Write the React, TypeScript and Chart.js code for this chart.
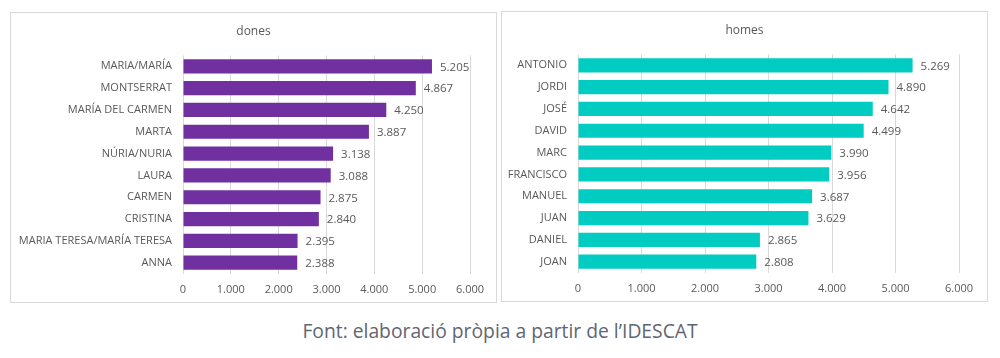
import React, { useEffect, useRef } from "react";
import { Chart, registerables } from "chart.js";

Chart.register(...registerables);

const donesNames = [
  "MARIA/MARÍA",
  "MONTSERRAT",
  "MARÍA DEL CARMEN",
  "MARTA",
  "NÚRIA/NURIA",
  "LAURA",
  "CARMEN",
  "CRISTINA",
  "MARIA TERESA/MARÍA TERESA",
  "ANNA",
];
const donesValues = [5205, 4867, 4250, 3887, 3138, 3088, 2875, 2840, 2395, 2388];

const homesNames = [
  "ANTONIO",
  "JORDI",
  "JOSÉ",
  "DAVID",
  "MARC",
  "FRANCISCO",
  "MANUEL",
  "JUAN",
  "DANIEL",
  "JOAN",
];
const homesValues = [5269, 4890, 4642, 4499, 3990, 3956, 3687, 3629, 2865, 2808];

const axisMin = 0;
const axisMax = 6000;
const axisStep = 1000;

const sourceText = "Font: elaboració pròpia a partir de l’IDESCAT";

const FONT = "'Open Sans', 'Liberation Sans', sans-serif";
const TEXT_GRAY = "#595959";
const GRID = "#d9d9d9";

const fmt = (v: number) =>
  String(Math.round(v)).replace(/\B(?=(\d{3})+(?!\d))/g, ".");

const valueLabels = {
  id: "valueLabels",
  afterDatasetsDraw(chart: any) {
    const ctx = chart.ctx;
    ctx.save();
    ctx.font = `11.5px ${FONT}`;
    ctx.fillStyle = TEXT_GRAY;
    ctx.textAlign = "left";
    ctx.textBaseline = "middle";
    chart.data.datasets.forEach((ds: any, di: number) => {
      const meta = chart.getDatasetMeta(di);
      meta.data.forEach((el: any, i: number) => {
        ctx.fillText(fmt(ds.data[i]), el.x + 8, el.y + 1);
      });
    });
    ctx.restore();
  },
};

const centeredTitle = {
  id: "centeredTitle",
  afterDraw(chart: any, _args: any, opts: any) {
    const ctx = chart.ctx;
    ctx.save();
    ctx.font = `12px ${FONT}`;
    ctx.fillStyle = TEXT_GRAY;
    ctx.textAlign = "center";
    ctx.textBaseline = "middle";
    ctx.fillText(opts.text, chart.width / 2, opts.y);
    ctx.restore();
  },
};

function BarPanel(props: {
  title: string;
  labels: string[];
  values: number[];
  color: string;
  yWidth: number;
  padRight: number;
}) {
  const ref = useRef<HTMLCanvasElement>(null);
  useEffect(() => {
    const chart = new Chart(ref.current!, {
      type: "bar",
      data: {
        labels: props.labels,
        datasets: [
          {
            data: props.values,
            backgroundColor: props.color,
            borderWidth: 0,
            categoryPercentage: 1,
            barPercentage: 0.65,
          },
        ],
      },
      options: {
        indexAxis: "y",
        animation: false,
        responsive: false,
        maintainAspectRatio: false,
        layout: { padding: { left: 0, right: props.padRight, top: 42.4, bottom: 0 } },
        plugins: {
          legend: { display: false },
          tooltip: { enabled: false },
          title: { display: false },
          centeredTitle: { text: props.title, y: 19 },
        } as any,
        scales: {
          x: {
            min: axisMin,
            max: axisMax,
            grid: { color: GRID, drawTicks: false, lineWidth: 1 },
            border: { display: false },
            ticks: {
              stepSize: axisStep,
              color: TEXT_GRAY,
              font: { family: FONT, size: 11 },
              padding: 9.5,
              callback: (v: any) => fmt(Number(v)),
            },
            afterFit: (scale: any) => {
              scale.height = 28.4;
            },
          },
          y: {
            grid: { display: false, drawTicks: false },
            border: { display: false },
            ticks: {
              color: TEXT_GRAY,
              font: { family: FONT, size: 11 },
              padding: 11,
            },
            afterFit: (scale: any) => {
              scale.width = props.yWidth;
            },
          },
        },
      },
      plugins: [valueLabels, centeredTitle],
    });
    return () => chart.destroy();
  }, []);
  return <canvas ref={ref} width={485} height={289} style={{ display: "block" }} />;
}

export default function App() {
  return (
    <div
      style={{
        position: "absolute",
        left: 0,
        top: 0,
        width: 1000,
        height: 358,
        background: "#ffffff",
      }}
    >
      <div
        style={{
          position: "absolute",
          left: 10,
          top: 12,
          width: 485,
          height: 289,
          border: `1px solid ${GRID}`,
        }}
      >
        <BarPanel
          title="dones"
          labels={donesNames}
          values={donesValues}
          color="#7030A0"
          yWidth={172}
          padRight={26}
        />
      </div>
      <div
        style={{
          position: "absolute",
          left: 501,
          top: 11,
          width: 485,
          height: 289,
          border: `1px solid ${GRID}`,
        }}
      >
        <BarPanel
          title="homes"
          labels={homesNames}
          values={homesValues}
          color="#00CCC2"
          yWidth={76}
          padRight={28}
        />
      </div>
      <div
        style={{
          position: "absolute",
          left: 0,
          top: 316,
          width: 1000,
          textAlign: "center",
          fontFamily: FONT,
          fontSize: 19.3,
          color: "#5f6673",
          lineHeight: "29px",
        }}
      >
        {sourceText}
      </div>
    </div>
  );
}
